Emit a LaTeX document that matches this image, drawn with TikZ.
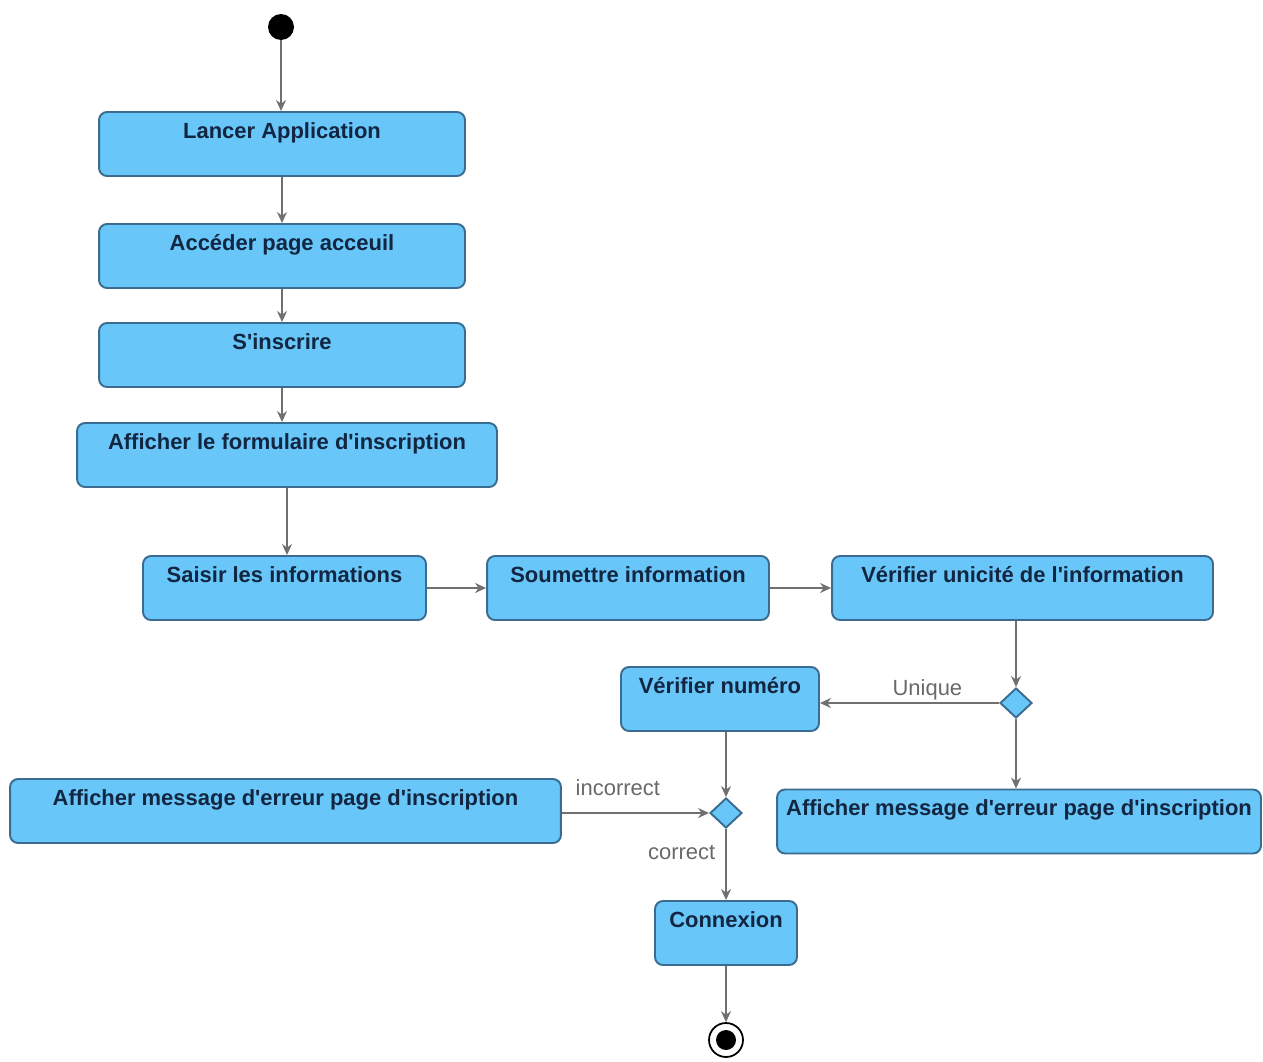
\documentclass[tikz,border=0pt]{standalone}
\usepackage{fontspec}
\setmainfont{Liberation Sans}[Ligatures=TeXOff]
\usetikzlibrary{shapes.geometric,arrows.meta,calc}
\definecolor{actfill}{RGB}{104,199,248}
\definecolor{actdraw}{RGB}{58,108,145}
\definecolor{acttext}{RGB}{18,38,66}
\definecolor{flow}{RGB}{112,112,112}
\definecolor{lbl}{RGB}{105,105,105}
\tikzset{
  act/.style={draw=actdraw, line width=1.1pt, fill=actfill, rounded corners=0.16cm,
    inner xsep=0pt, inner ysep=0pt, text height=0.52cm, text depth=0.76cm,
    font=\fontsize{12.5}{15}\selectfont\bfseries, text=acttext, align=center},
  decision/.style={diamond, draw=actdraw, line width=1.1pt, fill=actfill, inner sep=0pt,
    minimum width=0.64cm, minimum height=0.6cm},
  flowarrow/.style={draw=flow, line width=0.9pt, -{Stealth[length=0.22cm,width=0.2cm]}},
  guard/.style={font=\fontsize{12.5}{15}\selectfont, text=lbl, inner sep=0pt}
}
\begin{document}
\begin{tikzpicture}[x=0.02cm,y=-0.02cm]
\useasboundingbox (0,0) rectangle (1263,1061);
% start
\node[circle, fill=black, minimum size=0.52cm, inner sep=0pt] (start) at (281,27) {};
% actions
\node[act, minimum width=7.32cm] (b1) at (282,144) {Lancer Application};
\node[act, minimum width=7.32cm] (b2) at (282,256) {Accéder page acceuil};
\node[act, minimum width=7.32cm] (b3) at (282,355) {S'inscrire};
\node[act, minimum width=8.40cm] (b4) at (287,455) {Afficher le formulaire d'inscription};
\node[act, minimum width=5.66cm] (b5) at (284.5,588) {Saisir les informations};
\node[act, minimum width=5.64cm] (b6) at (628,588) {Soumettre information};
\node[act, minimum width=7.62cm] (b7) at (1022.5,588) {Vérifier unicité de l'information};
\node[decision] (d1) at (1016,703) {};
\node[act, minimum width=3.96cm] (b8) at (720,699) {Vérifier numéro};
\node[act, minimum width=11.02cm] (b9) at (285.5,811) {Afficher message d'erreur page d'inscription};
\node[decision] (d2) at (726,813) {};
\node[act, minimum width=9.68cm] (b10) at (1019,821.5) {Afficher message d'erreur page d'inscription};
\node[act, minimum width=2.84cm] (b11) at (726,933) {Connexion};
% final
\node[circle, draw=black, line width=1pt, fill=white, minimum size=0.68cm, inner sep=0pt] (final) at (726,1040) {};
\node[circle, fill=black, minimum size=0.4cm, inner sep=0pt] (finalin) at (final.center) {};
% flows
\draw[flowarrow] (start) -- (start |- b1.north);
\draw[flowarrow] (b1.south) -- (b2.north);
\draw[flowarrow] (b2.south) -- (b3.north);
\draw[flowarrow] (b3.south) -- (b3.south |- b4.north);
\draw[flowarrow] (b4.south) -- (b4.south |- b5.north);
\draw[flowarrow] (b5.east) -- (b6.west);
\draw[flowarrow] (b6.east) -- (b7.west);
\draw[flowarrow] (d1.north |- b7.south) -- (d1.north);
\draw[flowarrow] (d1.west) -- node[guard, above=0.05cm, pos=0.40] (lu) {Unique} (d1.west -| b8.east);
\draw[flowarrow] (d1.south) -- (d1.south |- b10.north);
\draw[flowarrow] (d2.north |- b8.south) -- (d2.north);
\draw[flowarrow] (b9.east |- d2.west) -- node[guard, above=0.34cm, pos=0.38] (li) {incorrect} (d2.west);
\draw[flowarrow] (d2.south) -- node[guard, left=0.2cm, pos=0.33] (lc) {correct} (b11.north);
\draw[flowarrow] (final.north |- b11.south) -- (final.north);
\end{tikzpicture}
\end{document}
